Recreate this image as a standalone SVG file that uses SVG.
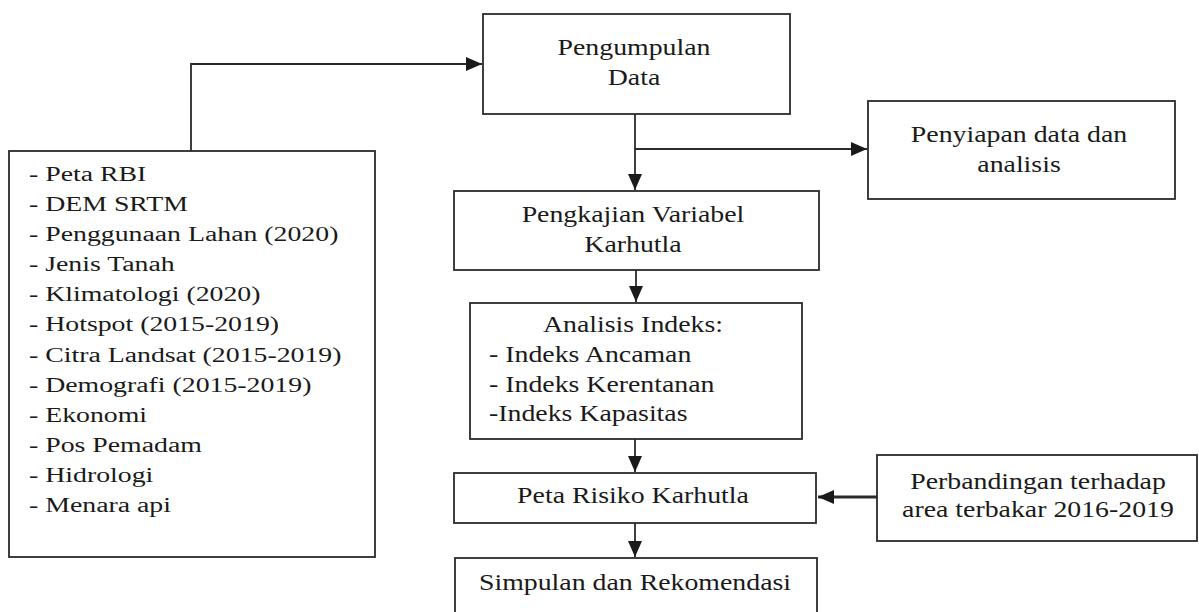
<svg xmlns="http://www.w3.org/2000/svg" width="1199" height="612" viewBox="0 0 1199 612">
<style>
.box{fill:#ffffff;stroke:#2b2b2b;stroke-width:1.8}
.t{font-family:"Liberation Serif","Times New Roman",serif;fill:#1a1a1a}
.l20{font-size:20px}
.l23{font-size:23px}
.c{text-anchor:middle}
.con{fill:none;stroke:#2b2b2b;stroke-width:1.8}
.thick{stroke-width:3.2}
</style>
<defs>
<marker id="arr" markerUnits="userSpaceOnUse" markerWidth="17" markerHeight="15" refX="16" refY="7" orient="auto">
<path d="M0,0 L16,7 L0,14 z" fill="#1a1a1a"/>
</marker>
</defs>
<rect width="1199" height="612" fill="#ffffff"/>

<g id="connectors">
<path class="con" d="M191,151 V64 H482" marker-end="url(#arr)"/>
<path class="con" d="M635,114 V190" marker-end="url(#arr)"/>
<path class="con" d="M635,149 H867" marker-end="url(#arr)"/>
<path class="con" d="M636,270 V302" marker-end="url(#arr)"/>
<path class="con" d="M635,439 V472" marker-end="url(#arr)"/>
<path class="con thick" d="M877,497 H818" marker-end="url(#arr)"/>
<path class="con" d="M635,523 V557" marker-end="url(#arr)"/>
</g>

<g id="data-list">
<rect class="box" x="9" y="151" width="366" height="406"/>
<g class="t l20" transform="translate(29,0) scale(1.39,1)">
<text x="0" y="181">- Peta RBI</text>
<text x="0" y="211">- DEM SRTM</text>
<text x="0" y="241">- Penggunaan Lahan (2020)</text>
<text x="0" y="271">- Jenis Tanah</text>
<text x="0" y="301">- Klimatologi (2020)</text>
<text x="0" y="331">- Hotspot (2015-2019)</text>
<text x="0" y="362">- Citra Landsat (2015-2019)</text>
<text x="0" y="392">- Demografi (2015-2019)</text>
<text x="0" y="422">- Ekonomi</text>
<text x="0" y="452">- Pos Pemadam</text>
<text x="0" y="482">- Hidrologi</text>
<text x="0" y="512">- Menara api</text>
</g>
</g>

<g id="pengumpulan">
<rect class="box" x="483" y="14" width="307" height="100"/>
<text class="t l23 c" transform="translate(634,55) scale(1.21,1)">Pengumpulan</text>
<text class="t l23 c" transform="translate(634,85) scale(1.21,1)">Data</text>
</g>

<g id="penyiapan">
<rect class="box" x="868" y="101" width="307" height="98"/>
<text class="t l23 c" transform="translate(1019,142) scale(1.21,1)">Penyiapan data dan</text>
<text class="t l23 c" transform="translate(1019,172) scale(1.21,1)">analisis</text>
</g>

<g id="pengkajian">
<rect class="box" x="454" y="191" width="365" height="79"/>
<text class="t l23 c" transform="translate(633,222) scale(1.21,1)">Pengkajian Variabel</text>
<text class="t l23 c" transform="translate(633,252) scale(1.21,1)">Karhutla</text>
</g>

<g id="analisis">
<rect class="box" x="470" y="303" width="332" height="136"/>
<text class="t l23 c" transform="translate(633,332) scale(1.21,1)">Analisis Indeks:</text>
<g class="t l23" transform="translate(489,0) scale(1.21,1)">
<text x="0" y="362">- Indeks Ancaman</text>
<text x="0" y="392">- Indeks Kerentanan</text>
<text x="0" y="421">-Indeks Kapasitas</text>
</g>
</g>

<g id="peta-risiko">
<rect class="box" x="454" y="473" width="362" height="50"/>
<text class="t l23 c" transform="translate(633,503) scale(1.21,1)">Peta Risiko Karhutla</text>
</g>

<g id="perbandingan">
<rect class="box" x="877" y="455" width="320" height="86"/>
<text class="t l23 c" transform="translate(1038,489) scale(1.21,1)">Perbandingan terhadap</text>
<text class="t l23 c" transform="translate(1038,517) scale(1.21,1)">area terbakar 2016-2019</text>
</g>

<g id="simpulan">
<rect class="box" x="455" y="558" width="362" height="64"/>
<text class="t l23 c" transform="translate(635,590) scale(1.21,1)">Simpulan dan Rekomendasi</text>
</g>
</svg>
